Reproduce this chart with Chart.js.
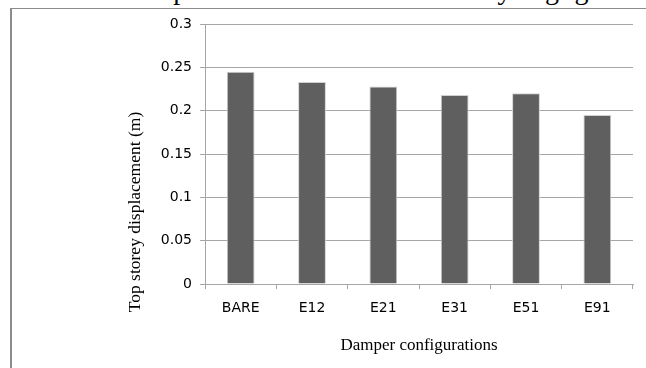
<!DOCTYPE html>
<html>
<head>
<meta charset="utf-8">
<script src="https://cdn.jsdelivr.net/npm/chart.js@4"></script>
<style>
  html, body { margin: 0; padding: 0; background: #fff; overflow: hidden; }
  #wrap { position: relative; width: 646px; height: 368px; }
  #lead {
    position: absolute; left: 0; top: -26px; white-space: nowrap;
    font: 28px "Liberation Serif", serif; line-height: 32px; color: #000;
  }
  #frame {
    position: absolute; left: 10px; top: 8px; width: 700px; height: 400px;
    border-left: 2px solid #8c8c8c; border-top: 1px solid #8c8c8c;
  }
  canvas { position: absolute; left: 0; top: 0; }
</style>
</head>
<body>
<div id="wrap">
  <div id="lead">er element: the performance increase are very negligible</div>
  <div id="frame"></div>
  <canvas id="chart" width="646" height="368"></canvas>
</div>
<script>
const CATEGORIES = ['BARE', 'E12', 'E21', 'E31', 'E51', 'E91'];
const DISPLACEMENT = [0.245, 0.233, 0.228, 0.218, 0.220, 0.195];
const Y_TITLE = 'Top storey displacement (m)';
const X_TITLE = 'Damper configurations';

// y-axis title sits centred on the frame rather than on the plot
const sideTitle = {
  id: 'sideTitle',
  afterDraw(chart) {
    const ctx = chart.ctx;
    ctx.save();
    ctx.fillStyle = '#000';
    ctx.font = '17.5px "Liberation Serif", serif';
    ctx.textAlign = 'center';
    ctx.textBaseline = 'middle';
    ctx.translate(135, 212);
    ctx.rotate(-Math.PI / 2);
    ctx.fillText(Y_TITLE, 0, 0);
    ctx.restore();
  },
};

new Chart(document.getElementById('chart'), {
  type: 'bar',
  data: {
    labels: CATEGORIES,
    datasets: [{
      data: DISPLACEMENT,
      backgroundColor: '#5f5f5f',
      borderColor: '#d0d0d0',
      borderWidth: { left: 1, right: 1, top: 1, bottom: 0 },
      barPercentage: 0.39,
      categoryPercentage: 1,
    }],
  },
  options: {
    responsive: false,
    animation: false,
    layout: { padding: { left: 0, right: 13, top: 24, bottom: 8 } },
    plugins: { legend: { display: false }, tooltip: { enabled: false } },
    scales: {
      x: {
        grid: { display: true, drawOnChartArea: false, offset: true, color: '#a6a6a6', tickLength: 5 },
        border: { color: '#a6a6a6' },
        ticks: { color: '#000', font: { family: 'DejaVu Sans', size: 14 }, padding: 11 },
        title: { display: true, text: X_TITLE, color: '#000', font: { family: 'Liberation Serif', size: 17 }, padding: { top: 3 } },
        afterFit(scale) { scale.height = 76; },
      },
      y: {
        min: 0,
        max: 0.3,
        grid: { color: '#a6a6a6', tickLength: 5 },
        border: { color: '#a6a6a6' },
        ticks: {
          stepSize: 0.05,
          color: '#000',
          font: { family: 'DejaVu Sans', size: 14 },
          padding: 8,
          callback: (v) => String(Math.round(v * 100) / 100),
        },
        afterFit(scale) { scale.width = 205; },
      },
    },
  },
  plugins: [sideTitle],
});
</script>
</body>
</html>
